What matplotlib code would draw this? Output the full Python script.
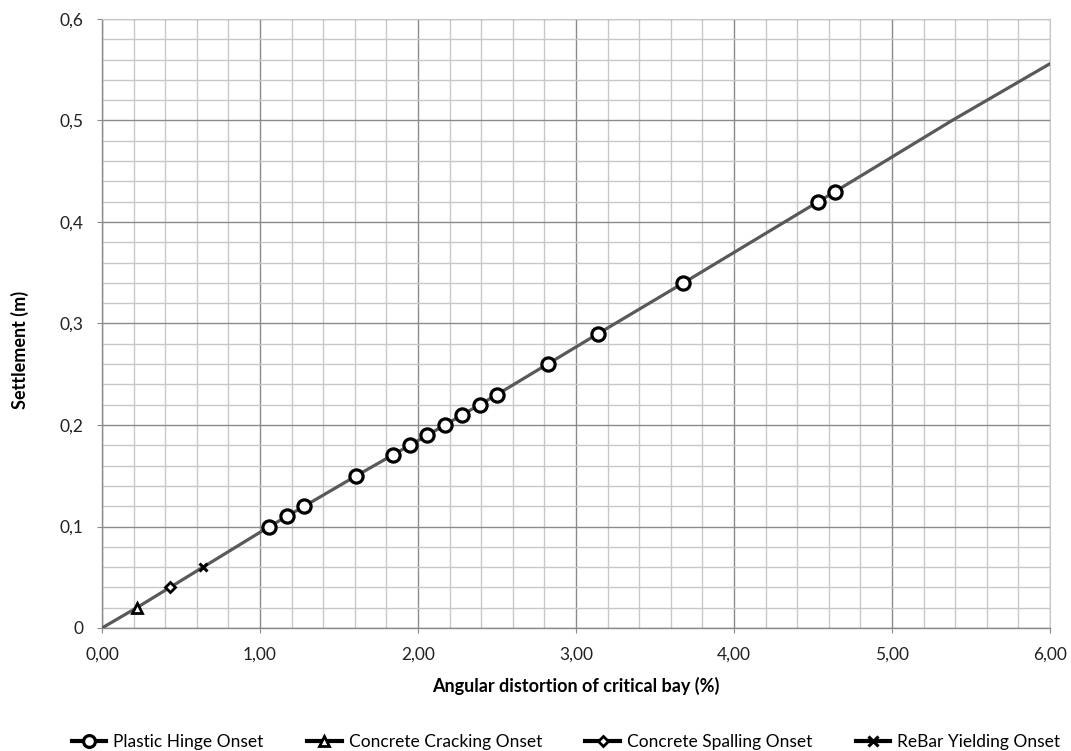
import matplotlib
matplotlib.use("Agg")
import matplotlib.pyplot as plt
from matplotlib.ticker import MultipleLocator, FuncFormatter
from matplotlib.lines import Line2D

plt.rcParams['font.family'] = ['Lato', 'DejaVu Sans']

# Data
hinge_x = [1.06, 1.17, 1.28, 1.61, 1.84, 1.95, 2.06, 2.17, 2.28, 2.39, 2.50, 2.82, 3.14, 3.68, 4.53, 4.64]
hinge_y = [0.10, 0.11, 0.12, 0.15, 0.17, 0.18, 0.19, 0.20, 0.21, 0.22, 0.23, 0.26, 0.29, 0.34, 0.42, 0.43]
crack_x, crack_y = [0.22], [0.02]
spall_x, spall_y = [0.43], [0.04]
yield_x, yield_y = [0.64], [0.06]
curve_x = [0.0, 0.22, 0.43, 0.64, 1.06, 1.61, 2.06, 2.50, 3.14, 3.68, 4.64, 5.38, 6.10]
curve_y = [0.0, 0.02, 0.04, 0.06, 0.10, 0.15, 0.19, 0.23, 0.29, 0.34, 0.43, 0.50, 0.565]

W, H = 1071, 751
fig = plt.figure(figsize=(W/100, H/100), dpi=100)
L, R, T, B = 102, 1050, 19, 628
ax = fig.add_axes([L/W, 1 - B/H, (R-L)/W, (B-T)/H])

ax.plot(curve_x, curve_y, color='#595959', lw=2.3, zorder=3, solid_capstyle='butt')
ax.plot(hinge_x, hinge_y, 'o', ms=9.5, mfc='white', mec='black', mew=2.3, zorder=4)
ax.plot(crack_x, crack_y, '^', ms=7, mfc='white', mec='black', mew=2.0, zorder=4)
ax.plot(spall_x, spall_y, 'D', ms=5, mfc='white', mec='black', mew=2.0, zorder=4)
ax.plot(yield_x, yield_y, 'x', ms=6, mec='black', mew=2.2, zorder=4)

ax.set_xlim(0, 6)
ax.set_ylim(0, 0.6)
ax.xaxis.set_major_locator(MultipleLocator(1))
ax.xaxis.set_minor_locator(MultipleLocator(0.2))
ax.yaxis.set_major_locator(MultipleLocator(0.1))
ax.yaxis.set_minor_locator(MultipleLocator(0.02))
ax.xaxis.set_major_formatter(FuncFormatter(lambda v, p: f"{v:.2f}".replace('.', ',')))
ax.yaxis.set_major_formatter(FuncFormatter(lambda v, p: "0" if abs(v) < 1e-9 else f"{v:.1f}".replace('.', ',')))

ax.grid(which='major', color='#8a8a8a', lw=1.0)
ax.grid(which='minor', color='#c8c8c8', lw=1.0)
ax.set_axisbelow(True)
for s in ['top', 'right']:
    ax.spines[s].set_color('#c8c8c8')
for s in ['left', 'bottom']:
    ax.spines[s].set_color('#8a8a8a')
    ax.spines[s].set_linewidth(1.0)
ax.tick_params(which='major', length=3.6, color='#8a8a8a', labelsize=12.5, labelcolor='#222222')
ax.tick_params(which='minor', length=0)
ax.tick_params(axis='x', pad=10)
ax.tick_params(axis='y', pad=10)

ax.set_xlabel('Angular distortion of critical bay (%)', fontsize=13, fontweight='bold')
ax.set_ylabel('Settlement (m)', fontsize=13, fontweight='bold')
ax.xaxis.label.set_va('center')
ax.yaxis.label.set_va('center')
ax.xaxis.set_label_coords(0.5, (B - 686) / (B - T))
ax.yaxis.set_label_coords((20 - L) / (R - L), (B - 350) / (B - T))

handles = [
    Line2D([], [], color='black', lw=3, marker='o', ms=8.5, mfc='white', mec='black', mew=2.3),
    Line2D([], [], color='black', lw=3, marker='^', ms=7.5, mfc='white', mec='black', mew=2.0),
    Line2D([], [], color='black', lw=3, marker='D', ms=5.5, mfc='white', mec='black', mew=2.0),
    Line2D([], [], color='black', lw=3, marker='x', ms=6.5, mec='black', mew=2.3),
]
labels = ['Plastic Hinge Onset', 'Concrete Cracking Onset', 'Concrete Spalling Onset', 'ReBar Yielding Onset']
fig.legend(handles, labels, loc='center', bbox_to_anchor=(566/W, 1 - 742/H), ncol=4,
           frameon=False, fontsize=12.5, handlelength=2.0, columnspacing=2.5, handletextpad=0.4,
           borderpad=0, borderaxespad=0)

fig.savefig('out.png', dpi=100)
